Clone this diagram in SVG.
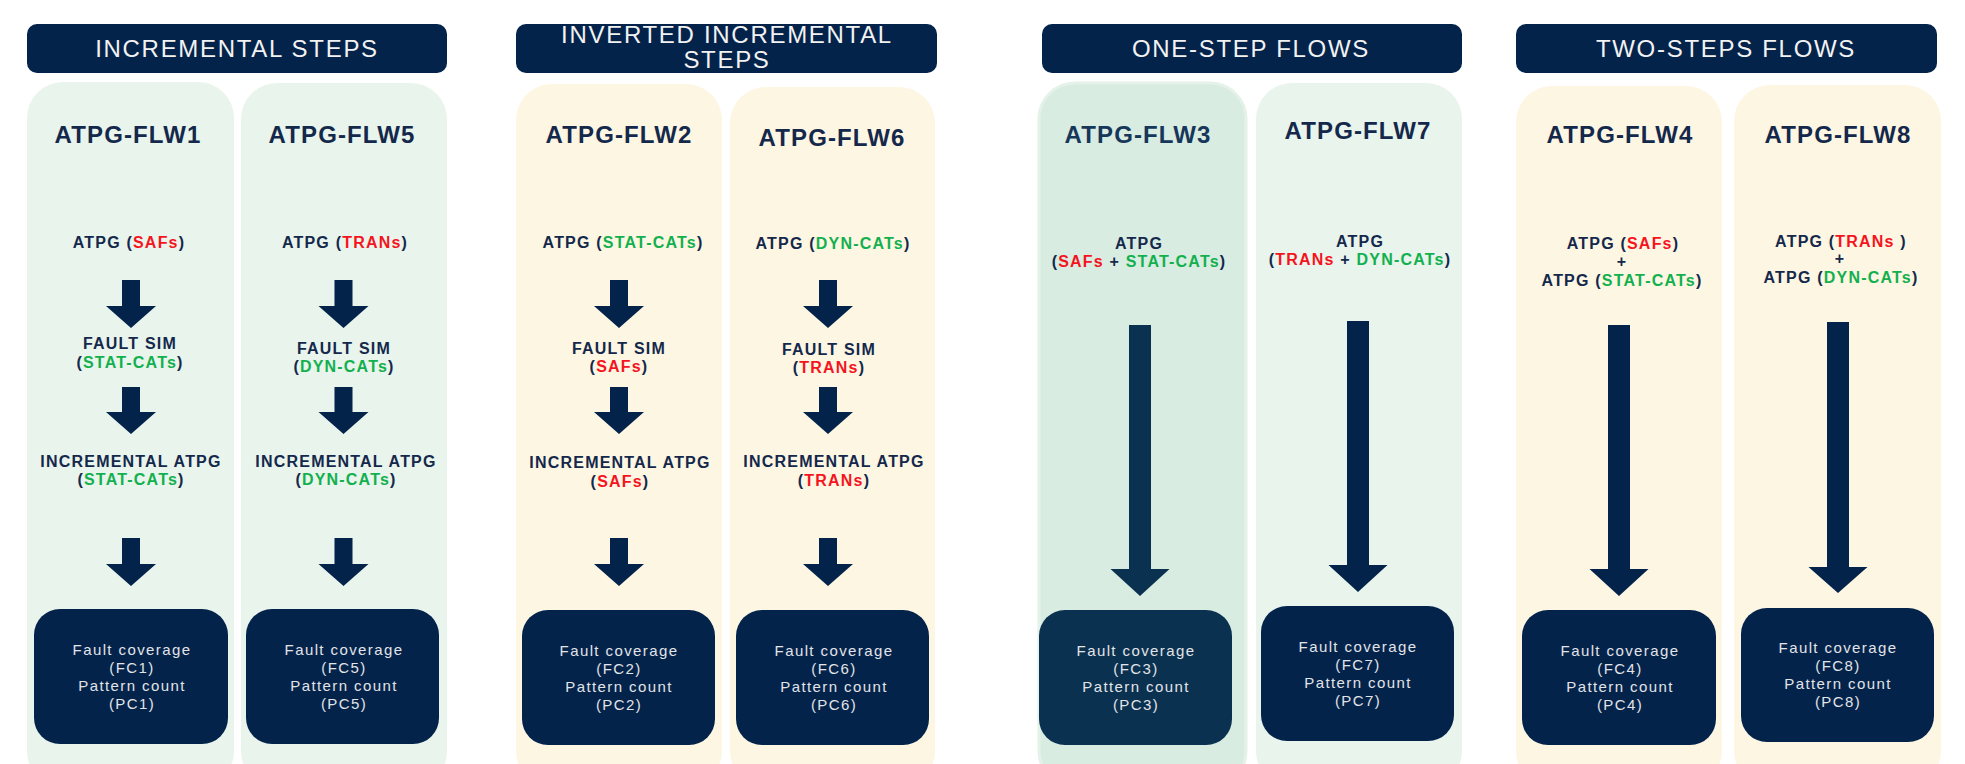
<svg xmlns="http://www.w3.org/2000/svg" width="1965" height="764" viewBox="0 0 1965 764">
<style>
.hdr{fill:#03234B}
.hdrt{font-family:"Liberation Sans",Arial,sans-serif;font-size:24px;fill:#F2F2F2;text-anchor:middle;letter-spacing:1.7px}
.pg{fill:#E8F4EC}
.pg3{fill:#D8ECE1;stroke:#E4F2E9;stroke-width:3}
.py{fill:#FDF6E3}
.ttl{font-family:"Liberation Sans",Arial,sans-serif;font-size:24px;font-weight:bold;fill:#14284B;text-anchor:middle;letter-spacing:1.1px}
.lbl{font-family:"Liberation Sans",Arial,sans-serif;font-size:16px;font-weight:bold;fill:#14284B;text-anchor:middle;letter-spacing:1.2px}
.r{fill:#F5141E}
.g{fill:#12B04E}
.box{fill:#03234B}
.box3{fill:#0B3150}
.bt{font-family:"Liberation Sans",Arial,sans-serif;font-size:15px;fill:#E2E4E8;text-anchor:middle;letter-spacing:1.4px}
.arr{fill:#03234B}
.arr3{fill:#0B3150}
</style>
<rect width="1965" height="764" fill="#FFFFFF"/>

<g id="header-incremental">
<rect class="hdr" x="27" y="24" width="420" height="49" rx="10"/>
<text class="hdrt" x="237" y="57">INCREMENTAL STEPS</text>
</g>
<g id="header-inverted">
<rect class="hdr" x="516" y="24" width="421" height="49" rx="10"/>
<text class="hdrt" x="727" y="43">INVERTED INCREMENTAL</text>
<text class="hdrt" x="727" y="68">STEPS</text>
</g>
<g id="header-onestep">
<rect class="hdr" x="1042" y="24" width="420" height="49" rx="10"/>
<text class="hdrt" x="1251" y="57">ONE-STEP FLOWS</text>
</g>
<g id="header-twosteps">
<rect class="hdr" x="1516" y="24" width="421" height="49" rx="10"/>
<text class="hdrt" x="1726" y="57">TWO-STEPS FLOWS</text>
</g>

<g id="flw1">
<rect class="pg" x="27" y="82" width="207" height="705" rx="36"/>
<text class="ttl" x="128" y="143">ATPG-FLW1</text>
<text class="lbl" x="129" y="248">ATPG (<tspan class="r">SAFs</tspan>)</text>
<text class="lbl" x="130" y="349">FAULT SIM</text>
<text class="lbl" x="130" y="368">(<tspan class="g">STAT-CATs</tspan>)</text>
<text class="lbl" x="131" y="467">INCREMENTAL ATPG</text>
<text class="lbl" x="131" y="485">(<tspan class="g">STAT-CATs</tspan>)</text>
<rect class="box" x="34" y="609" width="194" height="135" rx="26"/>
<text class="bt" x="132" y="655">Fault coverage</text>
<text class="bt" x="132" y="673">(FC1)</text>
<text class="bt" x="132" y="691">Pattern count</text>
<text class="bt" x="132" y="709">(PC1)</text>
</g>

<g id="flw5">
<rect class="pg" x="241" y="83" width="206" height="704" rx="36"/>
<text class="ttl" x="342" y="143">ATPG-FLW5</text>
<text class="lbl" x="345" y="248">ATPG (<tspan class="r">TRANs</tspan>)</text>
<text class="lbl" x="344" y="354">FAULT SIM</text>
<text class="lbl" x="344" y="372">(<tspan class="g">DYN-CATs</tspan>)</text>
<text class="lbl" x="346" y="467">INCREMENTAL ATPG</text>
<text class="lbl" x="346" y="485">(<tspan class="g">DYN-CATs</tspan>)</text>
<rect class="box" x="246" y="609" width="193" height="135" rx="26"/>
<text class="bt" x="344" y="655">Fault coverage</text>
<text class="bt" x="344" y="673">(FC5)</text>
<text class="bt" x="344" y="691">Pattern count</text>
<text class="bt" x="344" y="709">(PC5)</text>
</g>

<g id="flw2">
<rect class="py" x="516" y="84" width="206" height="703" rx="36"/>
<text class="ttl" x="619" y="143">ATPG-FLW2</text>
<text class="lbl" x="623" y="248">ATPG (<tspan class="g">STAT-CATs</tspan>)</text>
<text class="lbl" x="619" y="354">FAULT SIM</text>
<text class="lbl" x="619" y="372">(<tspan class="r">SAFs</tspan>)</text>
<text class="lbl" x="620" y="468">INCREMENTAL ATPG</text>
<text class="lbl" x="620" y="487">(<tspan class="r">SAFs</tspan>)</text>
<rect class="box" x="522" y="610" width="193" height="135" rx="26"/>
<text class="bt" x="619" y="656">Fault coverage</text>
<text class="bt" x="619" y="674">(FC2)</text>
<text class="bt" x="619" y="692">Pattern count</text>
<text class="bt" x="619" y="710">(PC2)</text>
</g>

<g id="flw6">
<rect class="py" x="730" y="87" width="205" height="700" rx="36"/>
<text class="ttl" x="832" y="146">ATPG-FLW6</text>
<text class="lbl" x="833" y="249">ATPG (<tspan class="g">DYN-CATs</tspan>)</text>
<text class="lbl" x="829" y="355">FAULT SIM</text>
<text class="lbl" x="829" y="373">(<tspan class="r">TRANs</tspan>)</text>
<text class="lbl" x="834" y="467">INCREMENTAL ATPG</text>
<text class="lbl" x="834" y="486">(<tspan class="r">TRANs</tspan>)</text>
<rect class="box" x="736" y="610" width="193" height="135" rx="26"/>
<text class="bt" x="834" y="656">Fault coverage</text>
<text class="bt" x="834" y="674">(FC6)</text>
<text class="bt" x="834" y="692">Pattern count</text>
<text class="bt" x="834" y="710">(PC6)</text>
</g>

<g id="flw3">
<rect class="pg3" x="1039" y="83" width="207" height="704" rx="36"/>
<text class="ttl" x="1138" y="143" style="fill:#16365A">ATPG-FLW3</text>
<text class="lbl" x="1139" y="249">ATPG</text>
<text class="lbl" x="1139" y="267">(<tspan class="r">SAFs</tspan> + <tspan class="g">STAT-CATs</tspan>)</text>
<rect class="box3" x="1039" y="610" width="193" height="135" rx="26"/>
<text class="bt" x="1136" y="656">Fault coverage</text>
<text class="bt" x="1136" y="674">(FC3)</text>
<text class="bt" x="1136" y="692">Pattern count</text>
<text class="bt" x="1136" y="710">(PC3)</text>
</g>

<g id="flw7">
<rect class="pg" x="1256" y="83" width="206" height="704" rx="36"/>
<text class="ttl" x="1358" y="139">ATPG-FLW7</text>
<text class="lbl" x="1360" y="247">ATPG</text>
<text class="lbl" x="1360" y="265">(<tspan class="r">TRANs</tspan> + <tspan class="g">DYN-CATs</tspan>)</text>
<rect class="box" x="1261" y="606" width="193" height="135" rx="26"/>
<text class="bt" x="1358" y="652">Fault coverage</text>
<text class="bt" x="1358" y="670">(FC7)</text>
<text class="bt" x="1358" y="688">Pattern count</text>
<text class="bt" x="1358" y="706">(PC7)</text>
</g>

<g id="flw4">
<rect class="py" x="1516" y="86" width="206" height="701" rx="36"/>
<text class="ttl" x="1620" y="143">ATPG-FLW4</text>
<text class="lbl" x="1623" y="249">ATPG (<tspan class="r">SAFs</tspan>)</text>
<text class="lbl" x="1622" y="267">+</text>
<text class="lbl" x="1622" y="286">ATPG (<tspan class="g">STAT-CATs</tspan>)</text>
<rect class="box" x="1522" y="610" width="194" height="135" rx="26"/>
<text class="bt" x="1620" y="656">Fault coverage</text>
<text class="bt" x="1620" y="674">(FC4)</text>
<text class="bt" x="1620" y="692">Pattern count</text>
<text class="bt" x="1620" y="710">(PC4)</text>
</g>

<g id="flw8">
<rect class="py" x="1734" y="85" width="207" height="702" rx="36"/>
<text class="ttl" x="1838" y="143">ATPG-FLW8</text>
<text class="lbl" x="1841" y="247">ATPG (<tspan class="r">TRANs</tspan> )</text>
<text class="lbl" x="1840" y="264">+</text>
<text class="lbl" x="1841" y="283">ATPG (<tspan class="g">DYN-CATs</tspan>)</text>
<rect class="box" x="1741" y="608" width="193" height="134" rx="26"/>
<text class="bt" x="1838" y="653">Fault coverage</text>
<text class="bt" x="1838" y="671">(FC8)</text>
<text class="bt" x="1838" y="689">Pattern count</text>
<text class="bt" x="1838" y="707">(PC8)</text>
</g>

<g id="connectors">
<polygon class="arr" points="122,280 140,280 140,306 156,306 131,328 106,306 122,306"/>
<polygon class="arr" points="122,387 140,387 140,412 156,412 131,434 106,412 122,412"/>
<polygon class="arr" points="122,538 140,538 140,564 156,564 131,586 106,564 122,564"/>
<polygon class="arr" points="334.5,280 352.5,280 352.5,306 368.5,306 343.5,328 318.5,306 334.5,306"/>
<polygon class="arr" points="334.5,387 352.5,387 352.5,412 368.5,412 343.5,434 318.5,412 334.5,412"/>
<polygon class="arr" points="334.5,538 352.5,538 352.5,564 368.5,564 343.5,586 318.5,564 334.5,564"/>
<polygon class="arr" points="610,280 628,280 628,306 644,306 619,328 594,306 610,306"/>
<polygon class="arr" points="610,387 628,387 628,412 644,412 619,434 594,412 610,412"/>
<polygon class="arr" points="610,538 628,538 628,564 644,564 619,586 594,564 610,564"/>
<polygon class="arr" points="819,280 837,280 837,306 853,306 828,328 803,306 819,306"/>
<polygon class="arr" points="819,387 837,387 837,412 853,412 828,434 803,412 819,412"/>
<polygon class="arr" points="819,538 837,538 837,564 853,564 828,586 803,564 819,564"/>
<polygon class="arr3" points="1129,325 1151,325 1151,569 1169.5,569 1140,596 1110.5,569 1129,569"/>
<polygon class="arr" points="1347,321 1369,321 1369,565 1387.5,565 1358,592 1328.5,565 1347,565"/>
<polygon class="arr" points="1608,325 1630,325 1630,569 1648.5,569 1619,596 1589.5,569 1608,569"/>
<polygon class="arr" points="1827,322 1849,322 1849,567 1867.5,567 1838,593 1808.5,567 1827,567"/>
</g>
</svg>
